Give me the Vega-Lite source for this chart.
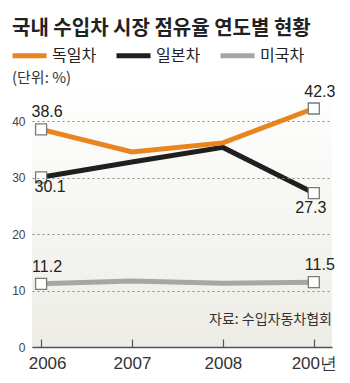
{
  "$schema": "https://vega.github.io/schema/vega-lite/v6.json",
  "width": 300,
  "height": 265,
  "autosize": {"type": "none"},
  "padding": {"left": 32, "top": 82, "right": 18, "bottom": 36},
  "background": "white",
  "title": {
    "text": "국내 수입차 시장 점유율 연도별 현황",
    "subtitle": "(단위: %)",
    "anchor": "start",
    "frame": "group",
    "dx": -20,
    "offset": -50,
    "font": "Noto Sans CJK KR",
    "fontSize": 20,
    "fontWeight": "bold",
    "color": "#222222",
    "subtitleFont": "Noto Sans CJK KR",
    "subtitleFontSize": 15,
    "subtitleColor": "#333333",
    "subtitlePadding": 32
  },
  "config": {
    "view": {"stroke": null},
    "legend": {
      "orient": "none",
      "legendX": -22,
      "legendY": -46,
      "direction": "horizontal",
      "symbolType": "stroke",
      "symbolStrokeWidth": 5,
      "symbolSize": 1156,
      "labelFont": "Noto Sans CJK KR",
      "labelFontSize": 16,
      "labelColor": "#222222",
      "labelOffset": 3,
      "columnPadding": 9,
      "padding": 0
    }
  },
  "datasets": {
    "series": [
      {"year": 2006, "country": "미국차", "value": 11.2},
      {"year": 2007, "country": "미국차", "value": 11.7},
      {"year": 2008, "country": "미국차", "value": 11.3},
      {"year": 2009, "country": "미국차", "value": 11.5},
      {"year": 2006, "country": "일본차", "value": 30.1},
      {"year": 2007, "country": "일본차", "value": 32.8},
      {"year": 2008, "country": "일본차", "value": 35.4},
      {"year": 2009, "country": "일본차", "value": 27.3},
      {"year": 2006, "country": "독일차", "value": 38.6},
      {"year": 2007, "country": "독일차", "value": 34.6},
      {"year": 2008, "country": "독일차", "value": 36.2},
      {"year": 2009, "country": "독일차", "value": 42.3}
    ],
    "bg": [{"x1": 2005.9, "x2": 2009.2, "y1": 0, "y2": 47}],
    "note": [{"year": 2009.2, "value": 4.8, "text": "자료: 수입자동차협회"}]
  },
  "layer": [
    {
      "data": {"name": "bg"},
      "mark": {
        "type": "rect",
        "color": {
          "gradient": "linear", "x1": 0, "y1": 0, "x2": 0, "y2": 1,
          "stops": [{"offset": 0, "color": "#ffffff"}, {"offset": 1, "color": "#edece5"}]
        }
      },
      "encoding": {
        "x": {"field": "x1", "type": "quantitative"},
        "x2": {"field": "x2"},
        "y": {"field": "y1", "type": "quantitative"},
        "y2": {"field": "y2"}
      }
    },
    {
      "data": {"name": "series"},
      "mark": {"type": "line", "strokeWidth": 5, "strokeCap": "butt"},
      "encoding": {
        "x": {
          "field": "year", "type": "quantitative",
          "scale": {"domain": [2005.9, 2009.2], "nice": false, "zero": false},
          "axis": {
            "values": [2006, 2007, 2008, 2009],
            "labelExpr": "datum.value == 2009 ? '200년' : '' + datum.value",
            "title": null,
            "grid": false,
            "domainColor": "#555555",
            "domainWidth": 1.5,
            "tickColor": "#555555",
            "tickSize": -8,
            "tickWidth": 1.2,
            "labelFont": "Liberation Sans",
            "labelFontSize": 17,
            "labelColor": "#333333",
            "labelPadding": 16,
            "labelOffset": {"condition": {"test": "datum.value == 2006", "value": 6}, "value": 0},
            "zindex": 1
          }
        },
        "y": {
          "field": "value", "type": "quantitative",
          "scale": {"domain": [0, 47], "nice": false},
          "axis": {
            "values": [0, 10, 20, 30, 40],
            "title": null,
            "domain": false,
            "ticks": false,
            "labelPadding": 7,
            "labelFont": "Liberation Sans",
            "labelFontSize": 12,
            "labelColor": "#444444",
            "gridColor": "#888888",
            "gridDash": [2, 3],
            "gridWidth": 1,
            "zindex": 1
          }
        },
        "color": {
          "field": "country", "type": "nominal",
          "scale": {"domain": ["독일차", "일본차", "미국차"], "range": ["#e8851e", "#1f1f1f", "#a6a6a6"]},
          "legend": {"title": null}
        }
      }
    },
    {
      "data": {"name": "series"},
      "transform": [{"filter": "datum.year == 2006 || datum.year == 2009"}],
      "mark": {"type": "point", "shape": "square", "size": 121, "filled": true, "fill": "#ffffff", "stroke": "#7a7a7a", "strokeWidth": 1.3, "opacity": 1},
      "encoding": {
        "x": {"field": "year", "type": "quantitative"},
        "y": {"field": "value", "type": "quantitative"}
      }
    },
    {
      "data": {"name": "series"},
      "transform": [{"filter": "(datum.year == 2006 || datum.year == 2009) && datum.country != '일본차'"}],
      "mark": {"type": "text", "dy": -17, "dx": 6, "font": "Liberation Sans", "fontSize": 16, "color": "#222222", "baseline": "middle"},
      "encoding": {
        "x": {"field": "year", "type": "quantitative"},
        "y": {"field": "value", "type": "quantitative"},
        "text": {"field": "value", "type": "quantitative", "format": ".1f"}
      }
    },
    {
      "data": {"name": "series"},
      "transform": [{"filter": "datum.year == 2006 && datum.country == '일본차'"}],
      "mark": {"type": "text", "dy": 10, "dx": 9, "font": "Liberation Sans", "fontSize": 16, "color": "#222222", "baseline": "middle"},
      "encoding": {
        "x": {"field": "year", "type": "quantitative"},
        "y": {"field": "value", "type": "quantitative"},
        "text": {"field": "value", "type": "quantitative", "format": ".1f"}
      }
    },
    {
      "data": {"name": "series"},
      "transform": [{"filter": "datum.year == 2009 && datum.country == '일본차'"}],
      "mark": {"type": "text", "dy": 15, "dx": -3, "font": "Liberation Sans", "fontSize": 16, "color": "#222222", "baseline": "middle"},
      "encoding": {
        "x": {"field": "year", "type": "quantitative"},
        "y": {"field": "value", "type": "quantitative"},
        "text": {"field": "value", "type": "quantitative", "format": ".1f"}
      }
    },
    {
      "data": {"name": "note"},
      "mark": {"type": "text", "align": "right", "baseline": "middle", "font": "Noto Sans CJK KR", "fontSize": 14, "color": "#333333"},
      "encoding": {
        "x": {"field": "year", "type": "quantitative"},
        "y": {"field": "value", "type": "quantitative"},
        "text": {"field": "text"}
      }
    }
  ]
}
